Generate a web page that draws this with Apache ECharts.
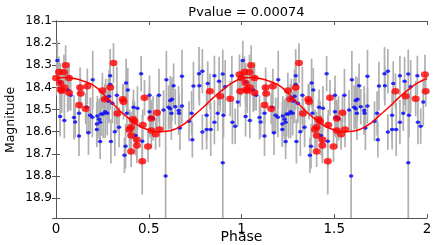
<!DOCTYPE html>
<html>
<head>
<meta charset="utf-8">
<script src="https://cdn.jsdelivr.net/npm/echarts@6/dist/echarts.min.js"></script>
<style>html,body{margin:0;padding:0;background:#fff;}#c{width:436px;height:245px;}</style>
</head>
<body>
<div id="c"></div>
<script>
// ---- data (one phase cycle, plotted twice: 0-1 and 1-2) ----
const titleText = 'Pvalue = 0.00074';
const xName = 'Phase';
const yName = 'Magnitude';
const xTicks = [0, 0.5, 1, 1.5, 2];
const yTicks = [18.1, 18.2, 18.3, 18.4, 18.5, 18.6, 18.7, 18.8, 18.9];

const bluePhase = [0.007,0.022,0.063,0.079,0.022,0.045,0.097,0.103,0.124,0.124,0.166,0.175,0.184,0.196,0.198,0.22,0.22,0.223,0.238,0.238,0.243,0.265,0.268,0.283,0.292,0.292,0.296,0.304,0.317,0.328,0.34,0.369,0.375,0.378,0.382,0.387,0.418,0.429,0.439,0.459,0.465,0.504,0.504,0.514,0.523,0.555,0.58,0.591,0.595,0.607,0.616,0.616,0.622,0.634,0.643,0.661,0.663,0.668,0.679,0.679,0.717,0.731,0.735,0.741,0.771,0.773,0.789,0.789,0.812,0.812,0.818,0.834,0.854,0.854,0.872,0.879,0.899,0.903,0.912,0.948,0.951,0.966,0.98,0.232,0.254,0.276,0.286,0.507,0.625,0.899];
const blueMag = [18.279,18.377,18.412,18.435,18.532,18.55,18.536,18.556,18.517,18.62,18.49,18.605,18.526,18.535,18.365,18.565,18.59,18.529,18.557,18.644,18.52,18.51,18.451,18.462,18.347,18.387,18.644,18.472,18.60,18.436,18.58,18.707,18.666,18.38,18.517,18.412,18.49,18.617,18.494,18.338,18.643,18.436,18.51,18.536,18.54,18.436,18.502,18.80,18.365,18.49,18.459,18.496,18.517,18.392,18.487,18.504,18.517,18.583,18.35,18.484,18.553,18.517,18.637,18.394,18.338,18.392,18.327,18.602,18.526,18.59,18.382,18.59,18.347,18.557,18.517,18.372,18.74,18.526,18.397,18.347,18.557,18.575,18.466,18.544,18.52,18.517,18.44,18.536,18.454,18.339];
const blueErr = [0.09,0.08,0.10,0.07,0.09,0.08,0.10,0.07,0.11,0.09,0.12,0.10,0.08,0.09,0.13,0.10,0.08,0.09,0.11,0.08,0.10,0.12,0.09,0.10,0.12,0.08,0.10,0.09,0.11,0.13,0.09,0.08,0.10,0.11,0.09,0.10,0.08,0.09,0.10,0.08,0.12,0.09,0.11,0.08,0.10,0.12,0.09,0.30,0.13,0.10,0.11,0.09,0.12,0.10,0.08,0.11,0.09,0.10,0.12,0.08,0.09,0.10,0.08,0.11,0.12,0.09,0.10,0.08,0.11,0.09,0.10,0.12,0.09,0.10,0.08,0.11,0.30,0.10,0.12,0.09,0.10,0.08,0.11,0.09,0.11,0.10,0.12,0.09,0.10,0.11];

const redPhase = [0.0,0.016,0.052,0.043,0.07,0.022,0.025,0.031,0.045,0.07,0.13,0.133,0.169,0.124,0.16,0.25,0.292,0.263,0.31,0.331,0.36,0.364,0.415,0.477,0.514,0.544,0.396,0.404,0.405,0.436,0.405,0.465,0.436,0.496,0.514,0.537,0.558,0.423,0.468,0.83,0.885,0.939,0.989,0.993];
const redMag = [18.357,18.33,18.30,18.332,18.357,18.38,18.41,18.415,18.40,18.424,18.40,18.427,18.395,18.48,18.496,18.414,18.40,18.454,18.29,18.518,18.454,18.465,18.544,18.447,18.54,18.514,18.59,18.58,18.617,18.637,18.69,18.734,18.663,18.667,18.595,18.612,18.59,18.553,18.57,18.417,18.44,18.451,18.342,18.417];
const redErr = [0.08,0.07,0.09,0.08,0.07,0.09,0.08,0.10,0.07,0.08,0.09,0.07,0.08,0.09,0.07,0.08,0.10,0.07,0.09,0.08,0.07,0.08,0.09,0.08,0.07,0.08,0.09,0.07,0.08,0.09,0.07,0.15,0.08,0.07,0.08,0.07,0.08,0.09,0.07,0.08,0.07,0.08,0.09,0.07];

const curvePhase = [0,0.05,0.1,0.15,0.2,0.25,0.3,0.35,0.4,0.45,0.5,0.55,0.6,0.65,0.7,0.75,0.8,0.85,0.9,0.95,1.0];
const curveMag = [18.36,18.355,18.36,18.372,18.39,18.425,18.468,18.51,18.545,18.575,18.592,18.60,18.598,18.585,18.56,18.522,18.485,18.445,18.41,18.38,18.36];

// ---- build series data (two cycles) ----
const cycles = [0, 1];
function pts(ph, mg, er) {
  const out = [];
  cycles.forEach(c => ph.forEach((p, i) => out.push([p + c, mg[i], er ? er[i] : 0])));
  return out;
}
const blueData = pts(bluePhase, blueMag, blueErr);
const redData = pts(redPhase, redMag, redErr);
const curveData = [];
cycles.forEach(c => curvePhase.forEach((p, i) => { if (c === 0 || i > 0) curveData.push([p + c, curveMag[i]]); }));
const errData = blueData.concat(redData);

const FONT = 'DejaVu Sans';
const axisCol = '#555';

function errItem(params, api) {
  const x = api.value(0), m = api.value(1), e = api.value(2);
  const a = api.coord([x, m - e]), b = api.coord([x, m + e]);
  return { type: 'line', shape: { x1: a[0], y1: a[1], x2: b[0], y2: b[1] },
           style: { stroke: '#b0b0b0', lineWidth: 1.7 } };
}

const chart = echarts.init(document.getElementById('c'), null, { renderer: 'canvas' });
const yFmt = v => (v > 18.95 ? '' : Number(v).toFixed(1));
chart.setOption({
  animation: false,
  backgroundColor: '#fff',
  title: { text: titleText, left: 241.5, textAlign: 'center', top: 1,
           textStyle: { fontFamily: FONT, fontSize: 13, fontWeight: 'normal', color: '#000' } },
  grid: { left: 56, right: 9, top: 21, bottom: 27, containLabel: false, outerBoundsMode: 'none' },
  graphic: [
    { type: 'text', x: 241.5, y: 237, z: 10,
      style: { text: xName, fontFamily: FONT, fontSize: 14, fill: '#000', textAlign: 'center', textVerticalAlign: 'middle' } },
    { type: 'text', x: 11, y: 120, rotation: Math.PI / 2, z: 10,
      style: { text: yName, fontFamily: FONT, fontSize: 12.5, fill: '#000', textAlign: 'center', textVerticalAlign: 'middle' } }
  ],
  xAxis: [
    { type: 'value', min: 0, max: 2, interval: 0.5, position: 'bottom',
      axisLine: { show: true, lineStyle: { color: axisCol, width: 1 } },
      axisTick: { show: true, inside: true, length: 4, lineStyle: { color: axisCol } },
      axisLabel: { fontFamily: FONT, fontSize: 13.5, color: '#000', margin: 4 },
      splitLine: { show: false } },
    { type: 'value', min: 0, max: 2, interval: 0.5, position: 'top',
      axisLine: { show: true, lineStyle: { color: axisCol, width: 1 } },
      axisTick: { show: true, inside: true, length: 4, lineStyle: { color: axisCol } },
      axisLabel: { show: false }, splitLine: { show: false } }
  ],
  yAxis: [
    { type: 'value', inverse: true, min: 18.1, max: 18.99, interval: 0.1, position: 'left',
      axisLine: { show: true, lineStyle: { color: axisCol, width: 1 } },
      axisTick: { show: true, inside: true, length: 4, lineStyle: { color: axisCol } },
      axisLabel: { fontFamily: FONT, fontSize: 12, color: '#000', margin: 4, formatter: yFmt },
      splitLine: { show: false } },
    { type: 'value', inverse: true, min: 18.1, max: 18.99, interval: 0.1, position: 'right',
      axisLine: { show: true, lineStyle: { color: axisCol, width: 1 } },
      axisTick: { show: true, inside: true, length: 4, lineStyle: { color: axisCol } },
      axisLabel: { show: false }, splitLine: { show: false } }
  ],
  series: [
    { type: 'custom', name: 'errors', renderItem: errItem, data: errData,
      encode: { x: 0, y: 1 }, clip: true, z: 1 },
    { type: 'scatter', name: 'all', data: blueData, symbol: 'circle', symbolSize: [4.5, 3.5],
      itemStyle: { color: '#0000ff' }, z: 2 },
    { type: 'line', name: 'fit', data: curveData, smooth: true, showSymbol: false, symbol: 'none',
      lineStyle: { color: '#ff0000', width: 1.5 }, z: 3 },
    { type: 'scatter', name: 'selected', data: redData, symbol: 'circle', symbolSize: [8, 6.5],
      itemStyle: { color: '#ff0000' }, z: 4 }
  ]
});
</script>
</body>
</html>
